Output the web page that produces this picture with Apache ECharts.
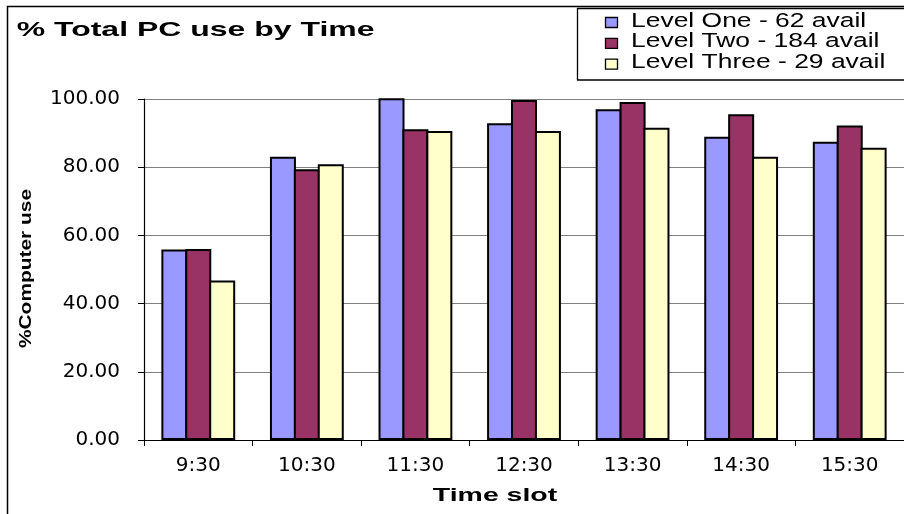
<!DOCTYPE html>
<html>
<head>
<meta charset="utf-8">
<script src="https://cdn.jsdelivr.net/npm/echarts@6/dist/echarts.min.js"></script>
<style>
html,body{margin:0;padding:0;background:#fff;}
#chart{width:904px;height:514px;}
</style>
</head>
<body>
<div id="chart"></div>
<script>
// ---- data ----
const categories = ['9:30', '10:30', '11:30', '12:30', '13:30', '14:30', '15:30'];
const levelOne   = [55.9, 83.1, 100.2, 92.9, 97.0, 88.9, 87.5];
const levelTwo   = [56.0, 79.4, 91.1, 99.7, 99.1, 95.5, 92.2];
const levelThree = [46.8, 80.9, 90.6, 90.6, 91.6, 83.1, 85.7];
const seriesNames = ['Level One - 62 avail', 'Level Two - 184 avail', 'Level Three - 29 avail'];
const titleText = '% Total PC use by Time';
const xAxisTitle = 'Time slot';
const yAxisTitle = '%Computer use';
const yMin = 0, yMax = 100, yStep = 20;

// ---- styling ----
const colors = ['#9999FF', '#993366', '#FFFFCC'];
const seriesData = [levelOne, levelTwo, levelThree];
const FONT = '"Liberation Sans", Arial, sans-serif';

const chart = echarts.init(document.getElementById('chart'));

const legendGraphics = [];
seriesNames.forEach(function (name, i) {
  const cy = 21 + i * 20.8;
  legendGraphics.push({
    type: 'rect', z: 101,
    shape: { x: 605.5, y: cy - 3.5, width: 12, height: 10 },
    style: { fill: colors[i], stroke: '#000', lineWidth: 1.3 }
  });
  legendGraphics.push({
    type: 'text', z: 101, x: 631, y: cy, scaleX: 1.29,
    style: { text: name, font: '20.5px ' + FONT, fill: '#000', align: 'left', verticalAlign: 'middle' }
  });
});

const option = {
  backgroundColor: '#ffffff',
  animation: false,
  grid: { left: 144, top: 99, width: 772, height: 341, containLabel: false },
  xAxis: {
    type: 'category',
    data: categories,
    boundaryGap: true,
    axisLine: { lineStyle: { color: '#000', width: 1.2 } },
    axisTick: { show: true, length: 6, lineStyle: { color: '#000', width: 1 } },
    axisLabel: { margin: 16, color: '#000', fontSize: 20, fontFamily: '"DejaVu Sans", sans-serif' },
    splitLine: { show: false }
  },
  yAxis: {
    type: 'value',
    min: yMin, max: yMax, interval: yStep,
    axisLine: { show: true, lineStyle: { color: '#000', width: 1.2 } },
    axisTick: { show: true, length: 6, lineStyle: { color: '#000', width: 1 } },
    axisLabel: {
      margin: 24, color: '#000', fontSize: 20, fontFamily: '"DejaVu Sans", sans-serif',
      formatter: function (v) { return v.toFixed(2); }
    },
    splitLine: { show: true, lineStyle: { color: '#808080', width: 1 } }
  },
  series: seriesNames.map(function (name, i) {
    return {
      name: name,
      type: 'bar',
      data: seriesData[i],
      clip: false,
      barGap: '-8%',
      barCategoryGap: '32%',
      itemStyle: { color: colors[i], borderColor: '#000', borderWidth: 2 },
      emphasis: { disabled: true }
    };
  }),
  graphic: [
    { type: 'rect', z: 90, silent: true,
      shape: { x: 7.5, y: 6.5, width: 1200, height: 1200 },
      style: { fill: null, stroke: '#000', lineWidth: 1.5 } },
    { type: 'rect', z: 100, silent: true,
      shape: { x: 577.5, y: 8.5, width: 400, height: 71.5 },
      style: { fill: '#fff', stroke: '#000', lineWidth: 1.3 } },
    { type: 'text', z: 100, x: 16.7, y: 30, scaleX: 1.56,
      style: { text: titleText, font: 'bold 20.5px ' + FONT, fill: '#000', align: 'left', verticalAlign: 'middle' } },
    { type: 'text', z: 100, x: 495, y: 496, scaleX: 1.53,
      style: { text: xAxisTitle, font: 'bold 18.6px ' + FONT, fill: '#000', align: 'center', verticalAlign: 'middle' } },
    { type: 'text', z: 100, x: 26.5, y: 268.5, rotation: Math.PI / 2, scaleX: 1.23,
      style: { text: yAxisTitle, font: 'bold 17px ' + FONT, fill: '#000', align: 'center', verticalAlign: 'middle' } }
  ].concat(legendGraphics)
};

chart.setOption(option);
</script>
</body>
</html>
